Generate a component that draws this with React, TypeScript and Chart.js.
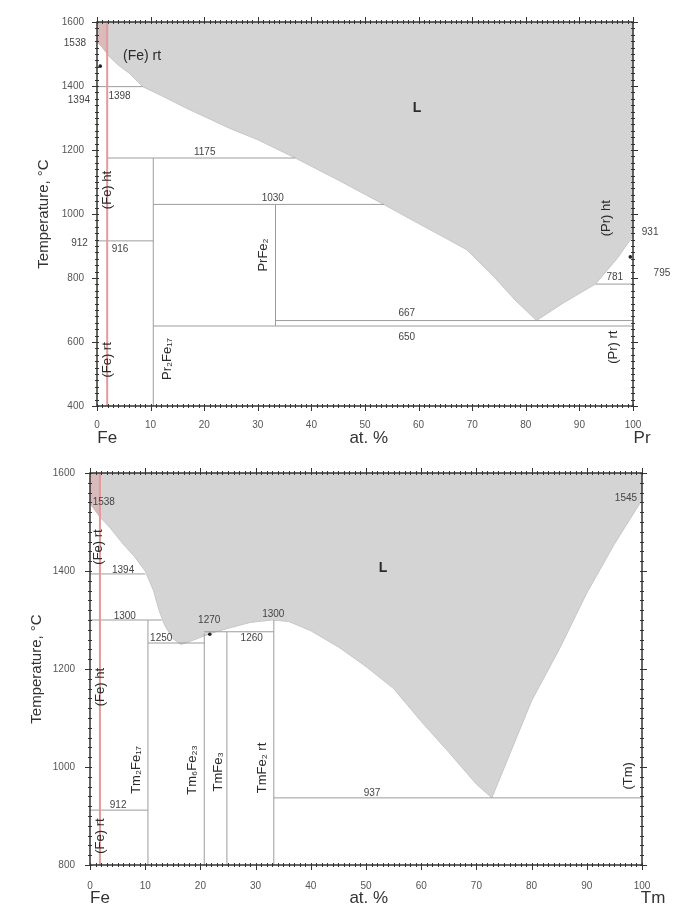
import React, { useEffect, useRef } from 'react';
import { Chart, registerables } from 'chart.js';

Chart.register(...registerables);

const FONT = '"Liberation Sans", Arial, "DejaVu Sans", sans-serif';
Chart.defaults.font.family = FONT;

const AXIS = '#333333';
const PHASE_LINE = '#9c9c9c';
const LIQUID_FILL = '#d4d4d4';
const PINK_FILL = 'rgba(225,140,140,0.35)';
const RED_LINE = '#e39a9a';

// ================= Fe–Pr =================
const prTRange = [400, 1600];
// liquidus [at.% Pr, T °C]
const prLiquidus = [
  [0, 1538], [1, 1520], [2.4, 1490], [4, 1465], [6, 1440], [8.5, 1398], [12, 1370],
  [17, 1328], [25, 1266], [30, 1232], [37, 1175], [45, 1106], [53.5, 1030], [60, 970],
  [65, 925], [69, 888], [74, 805], [78, 731], [82, 667], [87, 722], [93, 781], [97, 860], [100, 931],
];
const prPink = [[0, 1538], [1, 1520], [1.9, 1500]];
const prRedX = 1.9;
// [T, x from, x to]
const prIsotherms = [
  [1398, 0, 8.5], [1175, 2, 37], [1030, 10.5, 53.5], [916, 0, 10.5],
  [667, 33.3, 100], [650, 10.5, 100], [781, 93, 100],
];
// [x, T from, T to]
const prCompounds = [[10.5, 400, 1175], [33.3, 650, 1030]];
const prMarks = [[0.6, 1462], [99.5, 866]];
// [text, x, T, rotated, size, bold, align]
const prLabels: any[] = [
  ['(Fe) rt', 8.4, 1494, 0, 14, 0, 'center'],
  ['L', 59.7, 1331, 0, 14, 1, 'center'],
  ['1398', 4.2, 1368, 0, 10, 0, 'center'],
  ['1175', 20.1, 1194, 0, 10, 0, 'center'],
  ['1030', 32.8, 1050, 0, 10, 0, 'center'],
  ['916', 4.3, 891, 0, 10, 0, 'center'],
  ['667', 57.8, 691, 0, 10, 0, 'center'],
  ['650', 57.8, 616, 0, 10, 0, 'center'],
  ['781', 96.6, 803, 0, 10, 0, 'center'],
  ['931', 103.2, 944, 0, 10, 0, 'center'],
  ['795', 105.4, 816, 0, 10, 0, 'center'],
  ['1538', -2.05, 1534, 0, 10, 0, 'right'],
  ['1394', -1.3, 1356, 0, 10, 0, 'right'],
  ['912', -1.7, 909, 0, 10, 0, 'right'],
  ['(Fe) ht', 1.9, 1075, 1, 13, 0, 'center'],
  ['(Fe) rt', 2.0, 544, 1, 13, 0, 'center'],
  ['Pr₂Fe₁₇', 13.1, 547, 1, 13, 0, 'center'],
  ['PrFe₂', 31.0, 872, 1, 13, 0, 'center'],
  ['(Pr) ht', 95.1, 987, 1, 13, 0, 'center'],
  ['(Pr) rt', 96.3, 584, 1, 13, 0, 'center'],
];
// [text, x]
const prCaptions: any[] = [['Fe', 1.9], ['at. %', 50.7], ['Pr', 101.7]];

// ================= Fe–Tm =================
const tmTRange = [800, 1600];
const tmLiquidus = [
  [0, 1538], [1.8, 1510], [3.5, 1490], [6, 1455], [8, 1430], [10, 1400], [11.5, 1360],
  [12.5, 1320], [13.5, 1290], [15, 1262], [16.5, 1250], [18.5, 1258], [21.7, 1272],
  [25, 1283], [29, 1295], [33, 1300], [36, 1297], [40, 1278], [45, 1245], [50, 1205],
  [55, 1160], [60, 1093], [65, 1030], [70, 965], [72.8, 937], [76, 1025], [80, 1135],
  [85, 1240], [90, 1355], [95, 1455], [100, 1545],
];
const tmPink = [[0, 1538], [1, 1522], [1.8, 1510]];
const tmRedX = 1.8;
const tmIsotherms = [
  [1394, 0, 10], [1300, 0, 13], [1253, 10.5, 20.7], [1276, 20.7, 33.3],
  [912, 0, 10.5], [937, 33.3, 100],
];
const tmCompounds = [[10.5, 800, 1300], [20.7, 800, 1272], [24.8, 800, 1276], [33.3, 800, 1300]];
const tmMarks = [[21.7, 1271]];
const tmLabels: any[] = [
  ['L', 53.1, 1406, 0, 14, 1, 'center'],
  ['1538', 2.5, 1541, 0, 10, 0, 'center'],
  ['1545', 97.1, 1549, 0, 10, 0, 'center'],
  ['1394', 6.0, 1402, 0, 10, 0, 'center'],
  ['1300', 6.3, 1308, 0, 10, 0, 'center'],
  ['1250', 12.9, 1263, 0, 10, 0, 'center'],
  ['1270', 21.6, 1300, 0, 10, 0, 'center'],
  ['1300', 33.2, 1311, 0, 10, 0, 'center'],
  ['1260', 29.3, 1263, 0, 10, 0, 'center'],
  ['912', 5.1, 922, 0, 10, 0, 'center'],
  ['937', 51.1, 947, 0, 10, 0, 'center'],
  ['(Fe) rt', 1.5, 1449, 1, 13, 0, 'center'],
  ['(Fe) ht', 1.8, 1163, 1, 13, 0, 'center'],
  ['(Fe) rt', 1.8, 859, 1, 13, 0, 'center'],
  ['Tm₂Fe₁₇', 8.5, 994, 1, 13, 0, 'center'],
  ['Tm₆Fe₂₃', 18.5, 994, 1, 13, 0, 'center'],
  ['TmFe₃', 23.2, 990, 1, 13, 0, 'center'],
  ['TmFe₂ rt', 31.2, 998, 1, 13, 0, 'center'],
  ['(Tm)', 97.5, 982, 1, 13, 0, 'center'],
];
const tmCaptions: any[] = [['Fe', 1.8], ['at. %', 50.5], ['Tm', 102]];

const prSpec = {
  id: 'pr', tRange: prTRange, liquidus: prLiquidus, pink: prPink, redX: prRedX,
  isotherms: prIsotherms, compounds: prCompounds, marks: prMarks, labels: prLabels,
  captions: prCaptions, yW: 97, xH: 44, padR: 43, padT: 22, xPad: 5, yPad: 5,
  titleX: 44, captionDy: 32,
};
const tmSpec = {
  id: 'tm', tRange: tmTRange, liquidus: tmLiquidus, pink: tmPink, redX: tmRedX,
  isotherms: tmIsotherms, compounds: tmCompounds, marks: tmMarks, labels: tmLabels,
  captions: tmCaptions, yW: 90, xH: 42, padR: 34, padT: 23, xPad: 7, yPad: 7,
  titleX: 37, captionDy: 33,
};

function makeDecor(s: any) {
  return {
    id: 'decor_' + s.id,
    afterDatasetsDraw(chart: any) {
      const { ctx, chartArea: a } = chart;
      const xs = chart.scales.x;
      const ys = chart.scales.y;
      const seg = (x1: number, y1: number, x2: number, y2: number) => {
        ctx.beginPath(); ctx.moveTo(x1, y1); ctx.lineTo(x2, y2); ctx.stroke();
      };
      ctx.save();
      ctx.strokeStyle = AXIS;
      ctx.lineWidth = 1;
      for (let i = 0; ; i++) {
        const v = xs.min + i * 1;
        if (v > xs.max + 1e-9) break;
        const px = Math.round(xs.getPixelForValue(v)) + 0.5;
        const major = i % 10 === 0;
        seg(px, a.bottom + (major ? 5 : 2), px, a.bottom - 2);
        seg(px, a.top - (major ? 5 : 2), px, a.top + 2);
      }
      for (let i = 0; ; i++) {
        const v = ys.min + i * 20;
        if (v > ys.max + 1e-9) break;
        const py = Math.round(ys.getPixelForValue(v)) + 0.5;
        const major = i % 10 === 0;
        seg(a.left - (major ? 5 : 2), py, a.left + 2, py);
        seg(a.right + (major ? 5 : 2), py, a.right - 2, py);
      }
      ctx.lineWidth = 1.5;
      ctx.strokeRect(a.left, a.top, a.right - a.left, a.bottom - a.top);

      ctx.textBaseline = 'middle';
      for (const L of s.labels) {
        const [text, x, t, rot, size, bold, align] = L;
        const px = xs.getPixelForValue(x);
        const py = ys.getPixelForValue(t);
        ctx.save();
        ctx.translate(px, py);
        if (rot) ctx.rotate(-Math.PI / 2);
        ctx.font = `${bold ? 'bold ' : ''}${size}px ${FONT}`;
        ctx.fillStyle = /^\d/.test(text) ? '#444' : '#2b2b2b';
        ctx.textAlign = align;
        ctx.fillText(text, 0, 0);
        ctx.restore();
      }
      ctx.font = `17px ${FONT}`;
      ctx.fillStyle = '#333';
      ctx.textAlign = 'center';
      for (const [text, x] of s.captions) {
        ctx.fillText(text, xs.getPixelForValue(x), a.bottom + s.captionDy);
      }
      ctx.save();
      ctx.translate(s.titleX, (a.top + a.bottom) / 2);
      ctx.rotate(-Math.PI / 2);
      ctx.font = `15px ${FONT}`;
      ctx.fillText('Temperature, °C', 0, 0);
      ctx.restore();
      ctx.restore();
    },
  };
}

function buildConfig(s: any) {
  const pts = (arr: number[][]) => arr.map(([x, y]) => ({ x, y }));
  const datasets: any[] = [];
  datasets.push({
    data: pts(s.liquidus), borderColor: '#c6c6c6', borderWidth: 1,
    backgroundColor: LIQUID_FILL, fill: 'end', order: 10,
  });
  datasets.push({
    data: pts(s.pink), borderColor: 'rgba(0,0,0,0)', borderWidth: 0,
    backgroundColor: PINK_FILL, fill: 'end', order: 9,
  });
  for (const [t, a, b] of s.isotherms) {
    datasets.push({ data: [{ x: a, y: t }, { x: b, y: t }], borderColor: PHASE_LINE, borderWidth: 1, fill: false, order: 5 });
  }
  for (const [x, a, b] of s.compounds) {
    datasets.push({ data: [{ x, y: a }, { x, y: b }], borderColor: PHASE_LINE, borderWidth: 1, fill: false, order: 5 });
  }
  datasets.push({
    data: [{ x: s.redX, y: s.tRange[0] }, { x: s.redX, y: s.tRange[1] }],
    borderColor: RED_LINE, borderWidth: 2, fill: false, order: 2,
  });
  datasets.push({
    data: pts(s.marks), showLine: false, pointRadius: 1.8, pointBackgroundColor: '#222',
    pointBorderWidth: 0, order: 1,
  });
  return {
    type: 'line',
    data: { datasets },
    options: {
      responsive: false,
      animation: false,
      events: [],
      layout: { padding: { left: 0, right: s.padR, top: s.padT, bottom: 0 } },
      elements: { point: { radius: 0 }, line: { tension: 0 } },
      plugins: { legend: { display: false }, tooltip: { enabled: false } },
      scales: {
        x: {
          type: 'linear', min: 0, max: 100, position: 'bottom',
          ticks: {
            stepSize: 10, autoSkip: false, maxRotation: 0, padding: s.xPad,
            font: { size: 10, family: FONT }, color: '#555',
            callback: (v: any) => String(v),
          },
          grid: { display: false }, border: { display: false },
          afterFit: (sc: any) => { sc.height = s.xH; },
        },
        y: {
          type: 'linear', min: s.tRange[0], max: s.tRange[1], position: 'left',
          ticks: {
            stepSize: 200, autoSkip: false, padding: s.yPad,
            font: { size: 10, family: FONT }, color: '#555',
            callback: (v: any) => String(v),
          },
          grid: { display: false }, border: { display: false },
          afterFit: (sc: any) => { sc.width = s.yW; },
        },
      },
    },
    plugins: [makeDecor(s)],
  };
}

function PhaseChart({ spec, width, height }: { spec: any; width: number; height: number }) {
  const ref = useRef<HTMLCanvasElement>(null);
  useEffect(() => {
    const chart = new Chart(ref.current as HTMLCanvasElement, buildConfig(spec) as any);
    return () => chart.destroy();
  }, [spec]);
  return <canvas ref={ref} width={width} height={height} style={{ display: 'block', width, height }} />;
}

export default function App() {
  return (
    <div style={{ position: 'absolute', left: 0, top: 0, width: 676, height: 907, background: '#fff' }}>
      <PhaseChart spec={prSpec} width={676} height={450} />
      <PhaseChart spec={tmSpec} width={676} height={457} />
    </div>
  );
}
